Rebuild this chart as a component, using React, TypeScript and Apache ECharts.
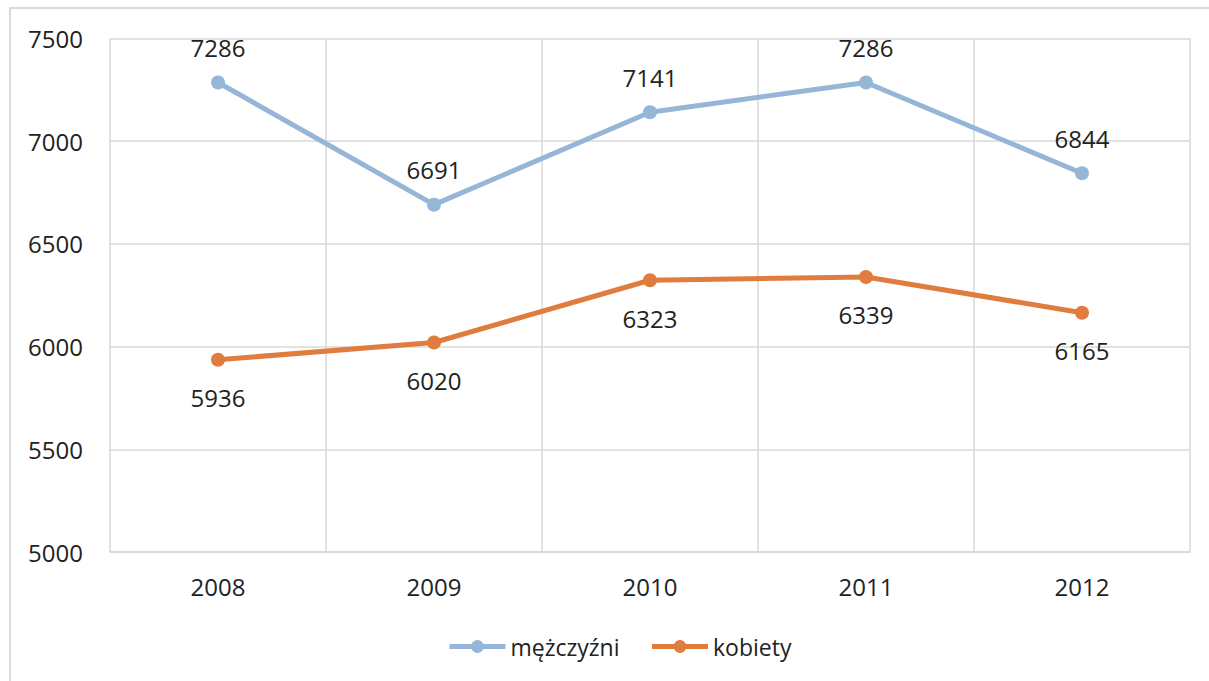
import React, { useEffect, useRef } from "react";
import * as echarts from "echarts";

const categories = ["2008", "2009", "2010", "2011", "2012"];
const men = [7286, 6691, 7141, 7286, 6844];
const women = [5936, 6020, 6323, 6339, 6165];
const yTicks = { min: 5000, max: 7500, interval: 500 };

export default function App() {
  const ref = useRef<HTMLDivElement>(null);
  useEffect(() => {
    const chart = echarts.init(ref.current!, null, { renderer: "svg" });
    const font = "'Open Sans', 'Noto Sans', sans-serif";
    chart.setOption({
      animation: false,
      backgroundColor: "#ffffff",
      textStyle: { fontFamily: font },
      graphic: [
        {
          type: "rect",
          shape: { x: 10, y: 8, width: 1400, height: 800 },
          style: { fill: "none", stroke: "#d9d9d9", lineWidth: 2 },
          silent: true,
        },
      ],
      grid: { left: 110, right: 19, top: 38.5, bottom: 129, containLabel: false },
      legend: {
        left: 442,
        top: 630,
        itemWidth: 56,
        itemHeight: 16,
        itemGap: 30,
        lineStyle: { width: 5 },
        textStyle: { fontSize: 23, color: "#222", fontFamily: font },
        data: ["mężczyźni", "kobiety"],
      },
      xAxis: {
        type: "category",
        data: categories,
        boundaryGap: true,
        axisLine: { show: true, lineStyle: { color: "#d9d9d9", width: 1.5 } },
        axisTick: { show: false },
        splitLine: { show: true, lineStyle: { color: "#d9d9d9", width: 1.5 } },
        axisLabel: { fontSize: 24, color: "#222", margin: 22, fontFamily: font },
      },
      yAxis: {
        type: "value",
        min: yTicks.min,
        max: yTicks.max,
        interval: yTicks.interval,
        axisLine: { show: false },
        axisTick: { show: false },
        splitLine: { show: true, lineStyle: { color: "#d9d9d9", width: 1.5 } },
        axisLabel: {
          fontSize: 24,
          color: "#222",
          margin: 27,
          fontFamily: font,
          formatter: (v: number) => String(v),
        },
      },
      series: [
        {
          name: "mężczyźni",
          type: "line",
          data: men,
          symbol: "circle",
          symbolSize: 14,
          lineStyle: { color: "#95b6d7", width: 5 },
          itemStyle: { color: "#95b6d7" },
          label: { show: true, position: "top", distance: 16, fontSize: 24, color: "#222", fontFamily: font },
        },
        {
          name: "kobiety",
          type: "line",
          data: women,
          symbol: "circle",
          symbolSize: 14,
          lineStyle: { color: "#e07c3e", width: 5 },
          itemStyle: { color: "#e07c3e" },
          label: { show: true, position: "bottom", distance: 19, fontSize: 24, color: "#222", fontFamily: font },
        },
      ],
    });
    return () => chart.dispose();
  }, []);
  return (
    <div
      ref={ref}
      style={{ position: "fixed", left: 0, top: 0, width: 1209, height: 681 }}
    />
  );
}
